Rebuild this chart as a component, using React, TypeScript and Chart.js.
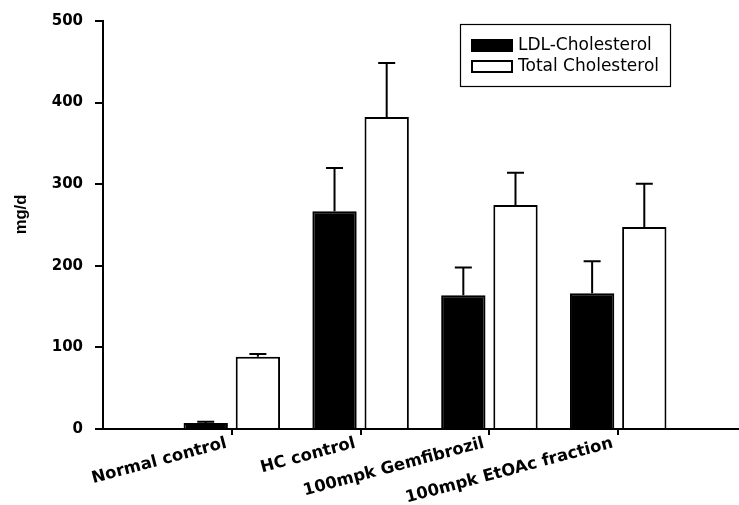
import React, { useEffect, useRef } from "react";
import { Chart, registerables } from "chart.js";

Chart.register(...registerables);

const categories = ["Normal control", "HC control", "100mpk Gemfibrozil", "100mpk EtOAc fraction"];
const seriesNames = ["LDL-Cholesterol", "Total Cholesterol"];
const ldlValues = [7.5, 267, 164, 166.5];
const ldlErrors = [1.5, 53, 34, 39];
const totalValues = [88.5, 382.5, 274.5, 247.5];
const totalErrors = [3.5, 66, 39.5, 53];
const yTicks = [0, 100, 200, 300, 400, 500];
const yTitle = "mg/d";

const errorBarPlugin = {
  id: "errorBars",
  afterDatasetsDraw(chart: any) {
    const { ctx } = chart;
    const yScale = chart.scales.y;
    chart.data.datasets.forEach((ds: any, di: number) => {
      const meta = chart.getDatasetMeta(di);
      const errs: number[] = ds.errors || [];
      meta.data.forEach((el: any, i: number) => {
        const v = ds.data[i].y;
        const top = yScale.getPixelForValue(v);
        const end = yScale.getPixelForValue(v + errs[i]);
        ctx.save();
        ctx.strokeStyle = "#000";
        ctx.lineWidth = 2;
        ctx.beginPath();
        ctx.moveTo(el.x, top);
        ctx.lineTo(el.x, end);
        ctx.moveTo(el.x - 8.5, end);
        ctx.lineTo(el.x + 8.5, end);
        ctx.stroke();
        ctx.restore();
      });
    });
  },
};

const legendAndTitlePlugin = {
  id: "customLegend",
  afterDraw(chart: any) {
    const { ctx } = chart;
    ctx.save();
    ctx.strokeStyle = "#000";
    ctx.lineWidth = 1.2;
    ctx.strokeRect(460.5, 24.5, 210, 62);
    chart.data.datasets.forEach((ds: any, i: number) => {
      const y = 39 + i * 21;
      ctx.fillStyle = ds.backgroundColor;
      ctx.fillRect(471, y, 42, 13);
      ctx.lineWidth = 2;
      ctx.strokeStyle = "#000";
      ctx.strokeRect(472, y + 1, 40, 11);
      ctx.fillStyle = "#000";
      ctx.font = "17px 'DejaVu Sans'";
      ctx.textAlign = "left";
      ctx.textBaseline = "middle";
      ctx.fillText(ds.label, 518, y + 7);
    });
    ctx.translate(21.5, 214.5);
    ctx.rotate(-Math.PI / 2);
    ctx.font = "bold 16.5px 'Liberation Sans'";
    ctx.textAlign = "center";
    ctx.textBaseline = "middle";
    ctx.fillStyle = "#000";
    ctx.fillText(yTitle, 0, 0);
    ctx.restore();
  },
};

export default function App() {
  const ref = useRef<HTMLCanvasElement | null>(null);
  useEffect(() => {
    if (!ref.current) return;
    const chart = new Chart(ref.current, {
      type: "bar",
      data: {
        datasets: [
          {
            label: seriesNames[0],
            data: ldlValues.map((v, i) => ({ x: i + 1, y: v })),
            errors: ldlErrors,
            backgroundColor: "#000",
            borderColor: "#000",
            borderWidth: 2,
            borderSkipped: "start",
            categoryPercentage: 0.81,
            barPercentage: 0.85,
          } as any,
          {
            label: seriesNames[1],
            data: totalValues.map((v, i) => ({ x: i + 1, y: v })),
            errors: totalErrors,
            backgroundColor: "#fff",
            borderColor: "#000",
            borderWidth: 2,
            borderSkipped: "start",
            categoryPercentage: 0.81,
            barPercentage: 0.85,
          } as any,
        ],
      },
      options: {
        responsive: false,
        animation: false,
        layout: { padding: { top: 20, right: 1, left: 0, bottom: 0 } },
        plugins: { legend: { display: false }, tooltip: { enabled: false } },
        scales: {
          x: {
            type: "linear",
            offset: false,
            min: 0,
            max: 4.93,
            afterBuildTicks: (scale: any) => {
              scale.ticks = categories.map((_, i) => ({ value: i + 1 }));
            },
            afterFit: (scale: any) => {
              scale.height = 76;
            },
            ticks: {
              autoSkip: false,
              maxRotation: 15,
              minRotation: 15,
              padding: -3,
              color: "#000",
              font: { family: "'DejaVu Sans'", weight: "bold", size: 16.5 },
              callback: (v: any) => (categories[Math.round(v) - 1] ?? "") + " ",
            },
            grid: {
              display: true,
              offset: false,
              drawOnChartArea: false,
              drawTicks: true,
              tickLength: 6,
              color: "#000",
              lineWidth: 2,
            },
            border: { display: true, color: "#000", width: 2 },
          },
          y: {
            min: 0,
            max: 500,
            afterBuildTicks: (scale: any) => {
              scale.ticks = yTicks.map((v) => ({ value: v }));
            },
            afterFit: (scale: any) => {
              scale.width = 103;
            },
            ticks: {
              padding: 12,
              color: "#000",
              font: { family: "'DejaVu Sans'", weight: "bold", size: 15 },
            },
            grid: {
              display: true,
              drawOnChartArea: false,
              drawTicks: true,
              tickLength: 8,
              color: "#000",
              lineWidth: 2,
            },
            border: { display: true, color: "#000", width: 2 },
          },
        },
      } as any,
      plugins: [errorBarPlugin, legendAndTitlePlugin],
    });
    return () => chart.destroy();
  }, []);
  return (
    <div style={{ position: "absolute", left: 0, top: 0, width: 739, height: 505, background: "#fff" }}>
      <canvas ref={ref} width={739} height={505} />
    </div>
  );
}
